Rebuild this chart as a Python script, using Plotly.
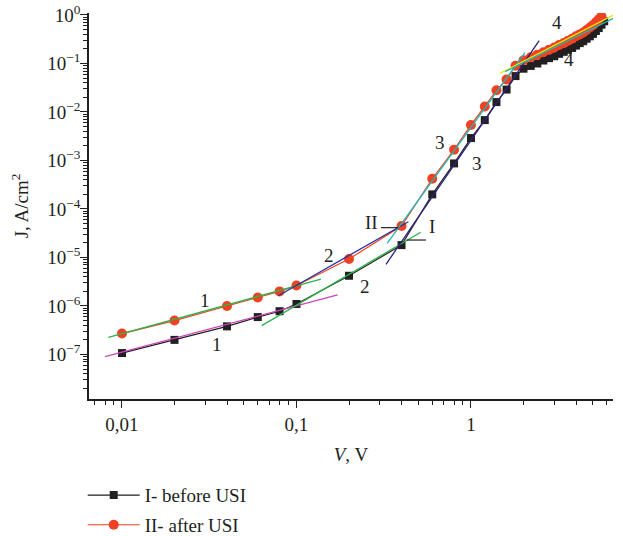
import math
import plotly.graph_objects as go

# ---------------- data ----------------
V_before = [0.01, 0.02, 0.04, 0.06, 0.08, 0.1, 0.2, 0.4, 0.6, 0.8, 1.0, 1.2, 1.4, 1.6, 1.8,
            2.0, 2.2, 2.4, 2.6, 2.8, 3.0, 3.2, 3.4, 3.6, 3.8, 4.0, 4.2, 4.4, 4.6, 4.8,
            5.0, 5.2, 5.4, 5.6, 5.8]
J_before = [1.07e-7, 2.0e-7, 3.8e-7, 5.9e-7, 7.8e-7, 1.1e-6, 4.2e-6, 1.8e-5, 2.0e-4, 8.7e-4,
            2.9e-3, 6.8e-3, 1.6e-2, 2.9e-2, 5.5e-2,
            0.078, 0.089, 0.100, 0.115, 0.129, 0.141, 0.158, 0.174, 0.191, 0.209, 0.234,
            0.263, 0.288, 0.324, 0.363, 0.407, 0.468, 0.537, 0.631, 0.741]

V_after = [0.01, 0.02, 0.04, 0.06, 0.08, 0.1, 0.2, 0.4, 0.6, 0.8, 1.0, 1.2, 1.4, 1.6, 1.8,
           2.0, 2.2, 2.4, 2.6, 2.8, 3.0, 3.2, 3.4, 3.6, 3.8, 4.0, 4.2, 4.4, 4.6, 4.8,
           5.0, 5.2, 5.4, 5.6]
J_after = [2.7e-7, 5.0e-7, 1.0e-6, 1.5e-6, 2.0e-6, 2.65e-6, 9.3e-6, 4.45e-5, 4.2e-4, 1.66e-3,
           5.4e-3, 1.3e-2, 2.8e-2, 4.7e-2, 9.0e-2,
           0.117, 0.135, 0.151, 0.170, 0.191, 0.214, 0.240, 0.263, 0.295, 0.324, 0.363,
           0.398, 0.437, 0.490, 0.550, 0.617, 0.708, 0.813, 0.933]

# fitted straight segments (endpoints)
fit_names = ["I-1", "II-1", "I-2", "II-2", "I-3", "II-3", "II-4", "I-4"]
fit_x = [[0.0080, 0.172], [0.00835, 0.138], [0.0632, 0.515], [0.0787, 0.438],
         [0.326, 2.46], [0.331, 2.04], [1.466, 7.47], [1.567, 7.46]]
fit_y = [[9.0e-8, 1.69e-6], [2.26e-7, 3.56e-6], [3.93e-7, 3.31e-5], [1.63e-6, 5.47e-5],
         [7.24e-6, 0.295], [1.96e-5, 0.167], [0.0628, 1.27], [0.0679, 1.08]]
fit_colors = ["#cc44bb", "#2db34a", "#2db34a", "#2b2f9e", "#2a2380", "#1fb5b0", "#f2e600", "#1fb5b0"]

# region labels
label_text = ["1", "1", "2", "2", "II", "I", "3", "3", "4", "4"]
label_x = [0.030, 0.035, 0.154, 0.247, 0.27, 0.60, 0.664, 1.09, 3.1, 3.66]
label_y = [1.3e-6, 1.58e-7, 1.12e-5, 2.5e-6, 5.2e-5, 4.3e-5, 2.3e-3, 8.7e-4, 0.69, 0.12]

# leader dashes for I and II
leader_x = [[0.305, 0.383], [0.428, 0.552]]
leader_y = [[4.12e-5, 4.12e-5], [2.29e-5, 2.29e-5]]

x_tickvals = [0.01, 0.1, 1]
x_ticktext = ["0,01", "0,1", "1"]
y_tickvals = [1e-7, 1e-6, 1e-5, 1e-4, 1e-3, 1e-2, 1e-1, 1]
y_ticktext = ["10<sup>−7</sup>", "10<sup>−6</sup>", "10<sup>−5</sup>", "10<sup>−4</sup>",
              "10<sup>−3</sup>", "10<sup>−2</sup>", "10<sup>−1</sup>", "10<sup>0</sup>"]

# ---------------- figure ----------------
FONT = "Liberation Serif"
TXT = "#231f20"
RED = "#ef4123"

fig = go.Figure()

fig.add_trace(go.Scatter(x=V_before, y=J_before, mode="lines+markers", name="I- before USI",
                         line=dict(color="#231f20", width=1.2),
                         marker=dict(symbol="square", size=8, color="#231f20"),
                         legendgroup="a"))
fig.add_trace(go.Scatter(x=V_after, y=J_after, mode="lines+markers", name="II- after USI",
                         line=dict(color=RED, width=1.2),
                         marker=dict(symbol="circle", size=10, color=RED),
                         legendgroup="b"))

# fit lines drawn on top of the data
for name, xs, ys, c in zip(fit_names, fit_x, fit_y, fit_colors):
    fig.add_trace(go.Scatter(x=xs, y=ys, mode="lines", line=dict(color=c, width=1.3),
                             showlegend=False, hoverinfo="skip"))

for xs, ys in zip(leader_x, leader_y):
    fig.add_trace(go.Scatter(x=xs, y=ys, mode="lines", line=dict(color="#231f20", width=1.2),
                             showlegend=False, hoverinfo="skip"))

# annotation positions on log axes are given in log10 units
for t, x, y in zip(label_text, label_x, label_y):
    fig.add_annotation(x=math.log10(x), y=math.log10(y), xref="x", yref="y", text=t,
                       showarrow=False, font=dict(family=FONT, size=19, color=TXT))

minor_x = [0.007, 0.008, 0.009] + [k * 0.01 for k in range(2, 10)] + \
          [k * 0.1 for k in range(2, 10)] + [2, 3, 4, 5, 6]
minor_y = [k * 10.0 ** e for e in range(-8, 0) for k in range(2, 10)]

fig.update_layout(
    width=623, height=536,
    margin=dict(l=89, r=10, t=13, b=137, autoexpand=False),
    plot_bgcolor="white", paper_bgcolor="white",
    font=dict(family=FONT, size=19, color=TXT),
    showlegend=True,
    legend=dict(x=-0.012, y=-0.2, xanchor="left", yanchor="top",
                font=dict(family=FONT, size=19, color=TXT), itemwidth=52,
                traceorder="grouped", tracegroupgap=2, bgcolor="rgba(0,0,0,0)"),
    xaxis=dict(type="log", range=[-2.189, 0.814], showgrid=False, zeroline=False,
               automargin=False, ticklabeloverflow="allow",
               showline=True, linecolor=TXT, linewidth=1.5,
               ticks="outside", ticklen=7, tickwidth=1.3, tickcolor=TXT,
               tickmode="array", tickvals=x_tickvals, ticktext=x_ticktext,
               tickfont=dict(family=FONT, size=19, color=TXT),
               minor=dict(tickmode="array", tickvals=minor_x, ticks="outside",
                          ticklen=4, tickwidth=1, tickcolor=TXT),
               title=dict(text="<i>V</i>, V", font=dict(family=FONT, size=19, color=TXT),
                          standoff=14)),
    yaxis=dict(type="log", range=[-7.918, 0.041], showgrid=False, zeroline=False,
               automargin=False, ticklabeloverflow="allow",
               showline=True, linecolor=TXT, linewidth=1.5,
               ticks="outside", ticklen=7, tickwidth=1.3, tickcolor=TXT,
               ticklabelstandoff=-4,
               tickmode="array", tickvals=y_tickvals, ticktext=y_ticktext,
               tickfont=dict(family=FONT, size=19, color=TXT),
               minor=dict(tickmode="array", tickvals=minor_y, ticks="outside",
                          ticklen=4, tickwidth=1, tickcolor=TXT),
               title=dict(text="J, A/cm<sup>2</sup>", font=dict(family=FONT, size=19, color=TXT),
                          standoff=14)),
)

# remove the default 8px page margin so the figure fills the window exactly
fig.write_html("out.html", config={"displayModeBar": False},
               post_script="document.body.style.margin='0';document.body.style.overflow='hidden';")
